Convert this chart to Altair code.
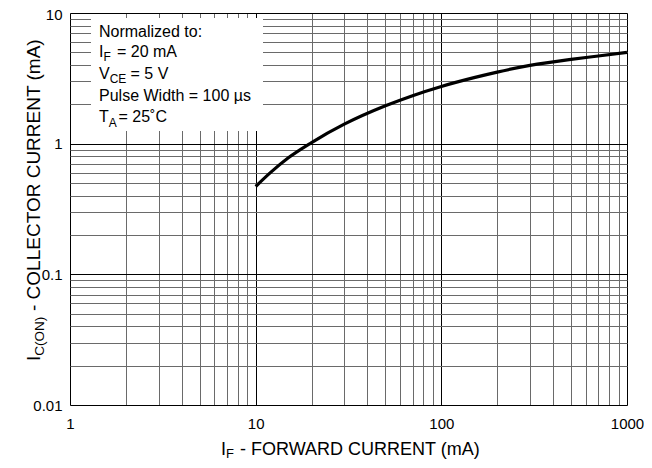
import json
import altair as alt
import pandas as pd

# ---- data ----
forward_current_ma = [10, 12, 15, 20, 30, 50, 70, 100, 150, 200, 300, 500, 700, 1000]
collector_current_norm = [0.47, 0.60, 0.78, 1.02, 1.41, 1.95, 2.33, 2.74, 3.20, 3.53, 3.97, 4.42, 4.69, 5.00]

x_grid_values = [1, 2, 3, 4, 5, 6, 7, 8, 9,
                 10, 20, 30, 40, 50, 60, 70, 80, 90,
                 100, 200, 300, 400, 500, 600, 700, 800, 900, 1000]
x_label_values = [1, 10, 100, 1000]
y_grid_values = [0.01, 0.02, 0.03, 0.04, 0.05, 0.06, 0.07, 0.08, 0.09,
                 0.1, 0.2, 0.3, 0.4, 0.5, 0.6, 0.7, 0.8, 0.9,
                 1, 2, 3, 4, 5, 6, 7, 8, 9, 10]
y_label_values = [0.01, 0.1, 1, 10]

FONT = "Liberation Sans"

# page position of the plot origin (8px page margin + padding)
PAD_L, PAD_T = 62, 5
OX, OY = 8 + PAD_L, 8 + PAD_T
W, H = 557, 392

df = pd.DataFrame({"if_ma": forward_current_ma, "ic": collector_current_norm})
one = pd.DataFrame({"k": [0]})


def major_test(vals):
    return "indexof(" + json.dumps(vals) + ", datum.value) >= 0"


def grid_color(vals):
    return {"condition": {"test": major_test(vals), "value": "#000000"}, "value": "#6a6a6a"}


def label_expr(vals):
    return major_test(vals) + " ? toString(datum.value) : ''"


x_axis = alt.Axis(
    values=x_grid_values, grid=True, gridColor=grid_color(x_label_values), gridWidth=1,
    gridOpacity=1, ticks=False, tickSize=0, domain=False, title=None,
    labelExpr=label_expr(x_label_values), labelFont=FONT, labelFontSize=15,
    labelColor="black", labelPadding=11, labelFlush=False, labelOverlap=False,
)
y_axis = alt.Axis(
    values=y_grid_values, grid=True, gridColor=grid_color(y_label_values), gridWidth=1,
    gridOpacity=1, ticks=False, tickSize=0, domain=False, title=None,
    labelExpr=label_expr(y_label_values), labelFont=FONT, labelFontSize=15,
    labelColor="black", labelPadding=8, labelFlush=False, labelOverlap=False,
    labelOffset={"condition": {"test": "datum.value == 10", "value": 1.5}, "value": 0},
)

curve = alt.Chart(df).mark_line(color="black", strokeWidth=3.2, interpolate="monotone").encode(
    x=alt.X("if_ma:Q", scale=alt.Scale(type="log", domain=[1, 1000], nice=False), axis=x_axis),
    y=alt.Y("ic:Q", scale=alt.Scale(type="log", domain=[0.01, 10], nice=False), axis=y_axis),
)

box = alt.Chart(one).mark_rect(color="white").encode(
    x=alt.value(91 - OX), x2=alt.value(263 - OX), y=alt.value(18 - OY), y2=alt.value(131 - OY)
)


def txt(s, px, py, size, angle=0):
    """Text annotation placed at page pixel (px, py)."""
    kw = dict(text=s, font=FONT, fontSize=size, color="black", align="left", baseline="alphabetic")
    if angle:
        kw["angle"] = angle
    return alt.Chart(one).mark_text(**kw).encode(x=alt.value(px - OX), y=alt.value(py - OY))


LS = 16   # legend font size
SS = 12   # legend subscript size
texts = [
    txt("Normalized to:", 99, 36.7, LS),
    txt("I", 99, 57.0, LS), txt("F", 103.5, 61.3, SS), txt("= 20 mA", 117, 57.0, LS),
    txt("V", 99, 79.0, LS), txt("CE", 109.7, 83.3, SS), txt("= 5 V", 130.5, 79.0, LS),
    txt("Pulse Width = 100 µs", 99, 101.3, LS),
    txt("T", 99, 122.3, LS), txt("A", 108.8, 126.8, SS), txt("= 25˚C", 118.5, 122.3, LS),
    # x axis title
    txt("I", 221, 455, 18), txt("F", 226, 458, 13), txt("- FORWARD CURRENT (mA)", 240, 455, 18),
    # y axis title (rotated)
    txt("I", 39.5, 361, 19, 270), txt("C(ON)", 43.5, 355.7, 13.5, 270),
    txt("- COLLECTOR CURRENT (mA)", 39.5, 311, 19, 270),
]

chart = alt.layer(curve, box, *texts).properties(
    width=W, height=H,
    padding={"left": PAD_L, "top": PAD_T, "right": 636 - PAD_L - W, "bottom": 452 - PAD_T - H},
    autosize=alt.AutoSizeParams(type="none"),
).configure_view(stroke="black", strokeWidth=1.6).configure(background="white")

chart.save("out.html", embed_options={"renderer": "svg", "actions": False})
